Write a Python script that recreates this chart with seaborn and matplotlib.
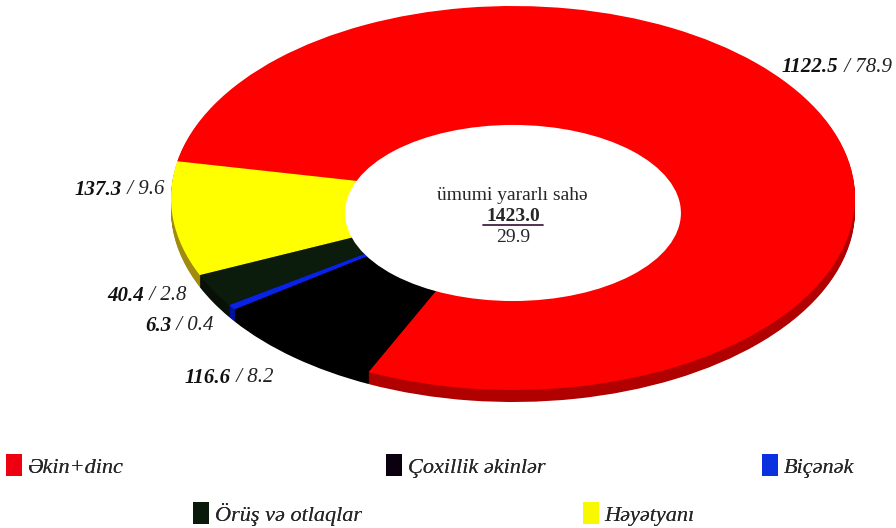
import matplotlib
matplotlib.use("Agg")
import matplotlib.pyplot as plt
import seaborn as sns
from matplotlib.patches import Patch, Ellipse
from matplotlib.lines import Line2D

sns.set_style("white")
plt.rcParams["font.family"] = ["Liberation Serif", "DejaVu Serif"]

# data (order as drawn, counterclockwise from bottom)
categories = ["Əkin+dinc", "Həyətyanı", "Örüş və otlaqlar", "Biçənək", "Çoxillik əkinlər"]
areas = [1122.5, 137.3, 40.4, 6.3, 116.6]
shares = [78.9, 9.6, 2.8, 0.4, 8.2]
total_area = "1423.0"
total_share = "29.9"
center_title = "ümumi yararlı sahə"

top_colors = ["#ff0000", "#ffff00", "#0c1c0c", "#0a22e8", "#000000"]
side_colors = ["#b00000", "#a08a10", "#081008", "#0010a0", "#000000"]

W, H = 896, 528
fig = plt.figure(figsize=(W / 100, H / 100), dpi=100)

def fx(x):
    return x / W

def fy(y):
    return 1 - y / H

depth = 0.0625
ax = fig.add_axes([fx(171), fy(402), fx(855) - fx(171), fy(6) - fy(402)])

n_layers = 14
for i in range(n_layers + 1):
    off = depth * (1 - i / n_layers)
    cols = side_colors if i < n_layers else top_colors
    ax.pie(areas, colors=cols, startangle=-115, counterclock=True,
           radius=1, center=(0, -off),
           wedgeprops=dict(edgecolor="none", linewidth=0))

# hole of the ring (sits a bit below the centre, as in the tilted view)
ax.add_patch(Ellipse((0, -0.078), 0.982, 0.917, facecolor="white", edgecolor="none", zorder=5))

ax.set_aspect("auto")
ax.set_xlim(-1, 1)
ax.set_ylim(-1 - depth, 1)
ax.axis("off")

# centre text
fig.text(fx(512), fy(196), center_title, ha="center", va="center", fontsize=14)
fig.text(fx(513), fy(216), total_area, ha="center", va="center",
         fontsize=14, fontweight="bold")
fig.text(fx(513), fy(237), total_share, ha="center", va="center", fontsize=14)
fig.add_artist(Line2D([fx(483), fx(543)], [fy(225), fy(225)], color="#301030", lw=1.2))

# slice labels: left x, centre y in pixels
label_pos = [(782, 67), (75, 190), (107, 296), (145, 326), (185, 378)]
for (x, y), a, s in zip(label_pos, areas, shares):
    b = fig.text(fx(x), fy(y), f"{a:.1f}", ha="left", va="center",
                 fontsize=15, fontweight="bold", fontstyle="italic", color="#111111")
    ax.annotate(f" / {s:.1f}", xy=(1, 0.5), xycoords=b, ha="left", va="center",
                fontsize=15, fontstyle="italic", color="#222222")

# legend, one entry at a time (staggered rows)
leg_colors = dict(zip(categories, ["#ee0010", "#f8f800", "#0a1a0a", "#0a30e0", "#0a0010"]))
leg_pos = {"Əkin+dinc": (6, 466), "Çoxillik əkinlər": (386, 466), "Biçənək": (762, 466),
           "Örüş və otlaqlar": (193, 514), "Həyətyanı": (583, 514)}

for name, (x, y) in leg_pos.items():
    lg = fig.legend([Patch(facecolor=leg_colors[name], edgecolor="none")], [name],
                    loc="center left", bbox_to_anchor=(fx(x), fy(y)),
                    frameon=False, handlelength=0.72, handleheight=1.1,
                    handletextpad=0.25, borderaxespad=0, borderpad=0,
                    prop=dict(family=["Liberation Serif", "DejaVu Serif"], size=16, style="italic"))
    fig.add_artist(lg)

fig.savefig("out.png", dpi=100, facecolor="white")
